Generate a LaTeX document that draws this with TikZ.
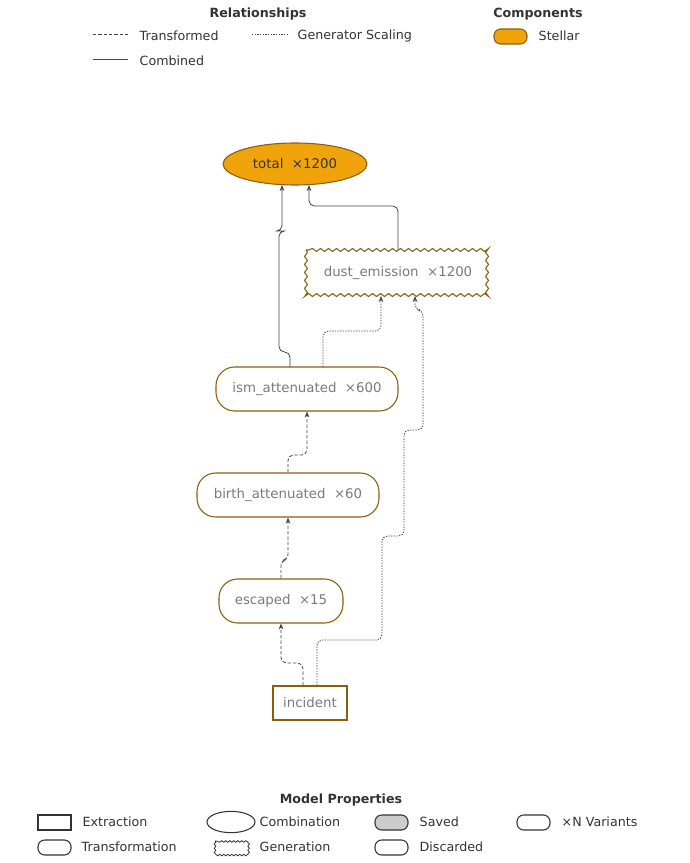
\documentclass[tikz,border=0pt]{standalone}
\usepackage{fontspec}
\setmainfont{DejaVu Sans}
\usetikzlibrary{shapes.geometric,decorations.pathmorphing,arrows.meta}
\definecolor{brn}{HTML}{8B5E0A}
\definecolor{org}{HTML}{F0A30A}
\definecolor{txt}{HTML}{7A7A7A}
\definecolor{dk}{HTML}{333333}
\definecolor{ln}{HTML}{444444}
\begin{document}
\begin{tikzpicture}[x=0.75pt,y=-0.75pt,
  every node/.style={font=\fontsize{10}{12}\selectfont},
  base/.style={draw=brn,line width=0.8pt,text=txt,inner sep=0pt},
  trans/.style={base,rounded corners=14pt,minimum height=33pt},
  ed/.style={draw=ln,line width=0.6pt,rounded corners=4pt,-{Stealth[length=4.5pt,width=3.5pt]}},
  dsh/.style={ed,dash pattern=on 2.5pt off 1.5pt},
  dot/.style={ed,dash pattern=on 1pt off 1pt},
  lg/.style={font=\fontsize{9.5}{11}\selectfont,text=dk,anchor=west},
  lgb/.style={font=\bfseries\fontsize{9.5}{11}\selectfont,text=dk},
  lshape/.style={draw=dk,line width=0.8pt}]
\useasboundingbox (0,0) rectangle (689,863);
% nodes
\node[base,ellipse,fill=org,text=dk,minimum width=108pt,minimum height=31.5pt] (total) at (295,164) {total\ \ ×1200};
\node[base,draw=none,minimum width=138pt,minimum height=34.5pt] (dust) at (398,273) {dust\_emission\ \ ×1200};
\draw[brn,line width=0.8pt,decorate,decoration={snake,segment length=6pt,amplitude=1.1pt}] (306,250) rectangle (490,296);
\node[trans,minimum width=136.5pt] (ism) at (307,389) {ism\_attenuated\ \ ×600};
\node[trans,minimum width=136.5pt] (birth) at (288,495) {birth\_attenuated\ \ ×60};
\node[trans,minimum width=93pt] (esc) at (281,601) {escaped\ \ ×15};
\node[base,minimum width=55.5pt,minimum height=25.5pt] (inc) at (310,703) {incident};
% edges
\draw[dsh] (inc.north -| 303,0) |- (281,663) -- (esc.south -| 281,0);
\draw[dot] (inc.north -| 317,0) -- (317,640) -- (382,640) -- (382,536) -- (404,536) -- (404,430) -- (423,430) -- (423,310) -- (415,310) -- (415,296);
\draw[dsh] (esc.north) -- (281,560) -- (288,560) -- (birth.south);
\draw[dsh] (birth.north) -- (288,455) -- (307,455) -- (ism.south);
\draw[dot] (323,367) -- (323,331) -- (381,331) -- (381,296);
\draw[ed] (290,367) -- (290,352) -- (279,352) -- (279,231) -- (282,231) -- (282,185);
\draw[ed] (398,250) -- (398,206) -- (309,206) -- (309,185);
% top legend
\node[lgb] (lr) at (258,14) {Relationships};
\draw[ln,line width=0.6pt,dash pattern=on 2.5pt off 1.5pt] (93,34) -- (128,34);
\node[lg] (l1) at (135,36) {Transformed};
\draw[ln,line width=0.6pt,dash pattern=on 1pt off 1pt] (252,34) -- (288,34);
\node[lg] (l2) at (293,36) {Generator Scaling};
\draw[ln,line width=0.6pt] (93,59) -- (128,59);
\node[lg] (l3) at (135,61) {Combined};
\node[lgb] (lc) at (538,14) {Components};
\draw[brn,fill=org,line width=0.8pt,rounded corners=5pt] (494,29) rectangle (527,44);
\node[lg] (l4) at (534,36) {Stellar};
% bottom legend
\node[lgb] (lm) at (341,800) {Model Properties};
\draw[lshape] (38,815) rectangle (71,830);
\node[lg] (b1) at (78,822) {Extraction};
\draw[lshape] (231,822) ellipse (18pt and 8pt);
\node[lg] (b2) at (255,822) {Combination};
\draw[lshape,fill=gray!40,rounded corners=5pt] (375,815) rectangle (408,830);
\node[lg] (b3) at (415,822) {Saved};
\draw[lshape,rounded corners=5pt] (517,815) rectangle (550,830);
\node[lg] (b4) at (557,822) {×N Variants};
\draw[lshape,rounded corners=5pt] (38,840) rectangle (71,855);
\node[lg] (b5) at (77,847) {Transformation};
\draw[lshape,line width=0.6pt,decorate,decoration={snake,segment length=3pt,amplitude=0.6pt}] (215,841) rectangle (247,853);
\node[lg] (b6) at (255,847) {Generation};
\draw[lshape,rounded corners=5pt] (375,840) rectangle (408,855);
\node[lg] (b7) at (415,847) {Discarded};
\end{tikzpicture}
\end{document}
